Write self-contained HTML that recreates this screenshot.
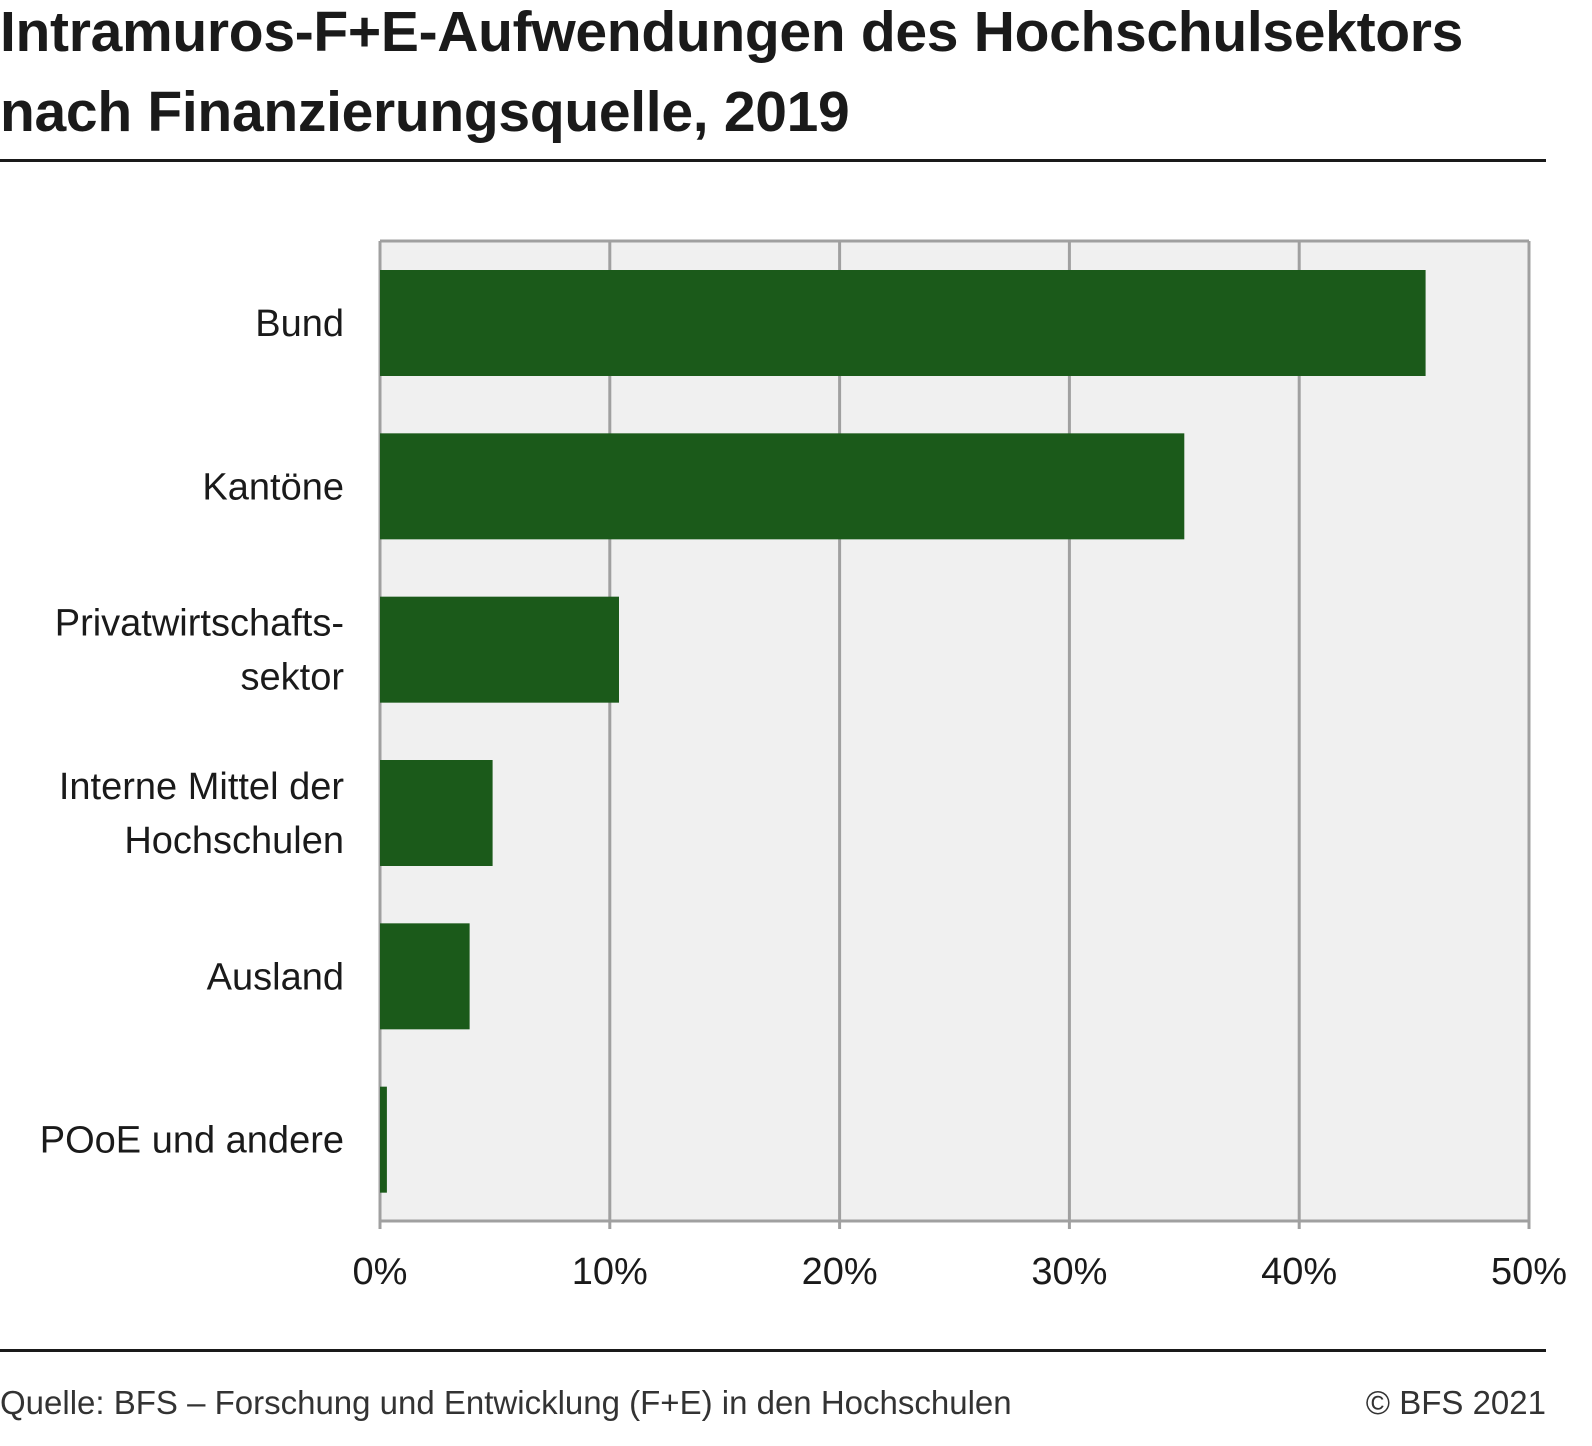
<!DOCTYPE html>
<html><head><meta charset="utf-8"><style>
body{margin:0;width:1592px;height:1446px;background:#fff;font-family:"Liberation Sans",sans-serif;color:#1a1a1a;position:relative;overflow:hidden}
.t{position:absolute;left:0;font-weight:bold;font-size:57px;line-height:80px;letter-spacing:-0.3px}
.rule{position:absolute;left:0;width:1546px;height:3px;background:#1a1a1a}
.f{position:absolute;top:1384px;font-size:33px;color:#333}
</style></head><body>
<div class="t" style="top:-8px">Intramuros-F+E-Aufwendungen des Hochschulsektors<br>nach Finanzierungsquelle, 2019</div>
<div class="rule" style="top:159px"></div>
<svg id="c" width="1592" height="1446" style="position:absolute;left:0;top:0"></svg>
<div class="rule" style="top:1349px"></div>
<div class="f" style="left:0">Quelle: BFS – Forschung und Entwicklung (F+E) in den Hochschulen</div>
<div class="f" style="right:46px">© BFS 2021</div>
<script>
const categories=[["Bund"],["Kantöne"],["Privatwirtschafts-","sektor"],["Interne Mittel der","Hochschulen"],["Ausland"],["POoE und andere"]];
const values=[45.5,35.0,10.4,4.9,3.9,0.3];
const ticks=[0,10,20,30,40,50];
const tickLabels=["0%","10%","20%","30%","40%","50%"];
const NS="http://www.w3.org/2000/svg",svg=document.getElementById('c');
const x0=380,x1=1529,y0=241,y1=1221,maxV=50;
const xs=v=>x0+(x1-x0)*v/maxV;
const band=(y1-y0)/categories.length;
function mk(t,a){const e=document.createElementNS(NS,t);for(const k in a)e.setAttribute(k,a[k]);svg.appendChild(e);return e;}
const bg=mk('rect',{x:x0,y:y0,width:x1-x0,height:y1-y0,fill:'#f0f0f0'});


ticks.forEach((t,i)=>{
 const l=mk('line',{x1:xs(t),x2:xs(t),y1:y0,y2:y1+8,stroke:'#a0a0a0','stroke-width':3});
 
 
 const tx=mk('text',{x:xs(t),y:1284,'text-anchor':'middle','font-size':38,fill:'#1a1a1a','font-family':'Liberation Sans'});
 tx.textContent=tickLabels[i];
 
 
});
const topBorder=mk('line',{x1:x0,x2:x1,y1:y0,y2:y0,stroke:'#a0a0a0','stroke-width':3});


const ax=mk('line',{x1:x0-1,x2:x1+1,y1:y1,y2:y1,stroke:'#a0a0a0','stroke-width':3});


values.forEach((v,i)=>{
 const by=y0+band*i+29;
 const r=mk('rect',{x:x0,y:by,width:xs(v)-x0,height:106,fill:'#1b5a1a'});
 
 
 const lines=categories[i],cy=by+53;
 lines.forEach((s,j)=>{
  const tx=mk('text',{x:344,y:cy+13+(j-(lines.length-1)/2)*54,'text-anchor':'end','font-size':38,fill:'#1a1a1a','font-family':'Liberation Sans'});
  tx.textContent=s;
  
  
 });
});
</script>
</body></html>
